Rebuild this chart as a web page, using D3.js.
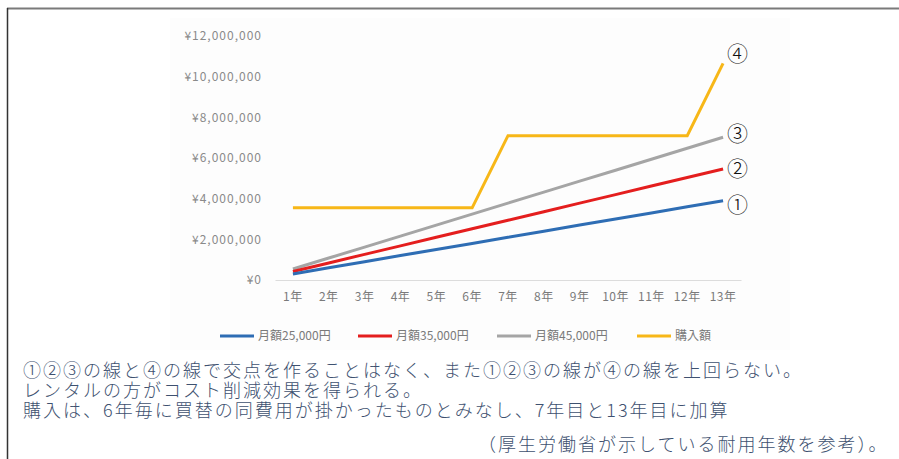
<!DOCTYPE html>
<html>
<head>
<meta charset="utf-8">
<script src="https://cdn.jsdelivr.net/npm/d3@7"></script>
<style>
  body { margin: 0; background: #fff; }
  svg text { font-family: "Noto Sans CJK JP", "Noto Sans", sans-serif; }
</style>
</head>
<body>
<div id="chart"></div>
<script>
// Data
const years = ["1年","2年","3年","4年","5年","6年","7年","8年","9年","10年","11年","12年","13年"];
const rent25 = [300000,600000,900000,1200000,1500000,1800000,2100000,2400000,2700000,3000000,3300000,3600000,3900000];
const rent35 = [420000,840000,1260000,1680000,2100000,2520000,2940000,3360000,3780000,4200000,4620000,5040000,5460000];
const rent45 = [540000,1080000,1620000,2160000,2700000,3240000,3780000,4320000,4860000,5400000,5940000,6480000,7020000];
const purchase = [3550000,3550000,3550000,3550000,3550000,3550000,7100000,7100000,7100000,7100000,7100000,7100000,10650000];
const yTicks = [0,2000000,4000000,6000000,8000000,10000000,12000000];
const seriesNames = ["月額25,000円","月額35,000円","月額45,000円","購入額"];
const seriesColors = ["#2e6db4","#e41e1e","#a5a5a5","#f7b718"];
const lineMarks = ["①","②","③","④"];
const notes = [
  "①②③の線と④の線で交点を作ることはなく、また①②③の線が④の線を上回らない。",
  "レンタルの方がコスト削減効果を得られる。",
  "購入は、6年毎に買替の同費用が掛かったものとみなし、7年目と13年目に加算",
  "（厚生労働省が示している耐用年数を参考）。"
];

const svgWidth = 899;
const svgHeight = 459;

const svg = d3.select("#chart")
  .append("svg")
  .attr("width", svgWidth)
  .attr("height", svgHeight);

// frame lines (top and left)
svg.append("line")
  .attr("x1", 7).attr("x2", svgWidth).attr("y1", 8.5).attr("y2", 8.5)
  .attr("stroke", "#7a7a7a").attr("stroke-width", 2);
svg.append("line")
  .attr("x1", 7.5).attr("x2", 7.5).attr("y1", 8).attr("y2", svgHeight)
  .attr("stroke", "#333").attr("stroke-width", 1.5);

// faint pasted-image backdrop
svg.append("rect")
  .attr("x", 170).attr("y", 18).attr("width", 620).attr("height", 332)
  .attr("fill", "#fdfdfd");

// Scales
const x = d3.scaleBand()
  .domain(years)
  .range([275, 741]);

const y = d3.scaleLinear()
  .domain([0, 12000000])
  .range([280, 36]);

const xc = d => x(d) + x.bandwidth() / 2;

// Axes
const yAxis = d3.axisLeft(y)
  .tickValues(yTicks)
  .tickSize(0)
  .tickPadding(0)
  .tickFormat(d => "¥" + d3.format(",")(d));

const yAxisG = svg.append("g")
  .attr("transform", "translate(262,0)")
  .call(yAxis);
yAxisG.select(".domain").remove();
yAxisG.selectAll("text")
  .attr("fill", "#8a8a8a")
  .style("font-size", "12px")
  .style("letter-spacing", "1px");

const xAxis = d3.axisBottom(x).tickSize(0).tickPadding(12);
const xAxisG = svg.append("g")
  .attr("transform", "translate(0,280)")
  .call(xAxis);
xAxisG.select(".domain")
  .attr("stroke", "#dcdcdc")
  .attr("stroke-width", 1.2);
xAxisG.selectAll("text")
  .attr("fill", "#7a7a7a")
  .style("font-size", "12px")
  .style("letter-spacing", "0.5px");

// Lines
const allSeries = [rent25, rent35, rent45, purchase];
const line = d3.line()
  .x((d, i) => xc(years[i]))
  .y(d => y(d));

// draw yellow first so rental lines sit on top near the origin
[3, 2, 1, 0].forEach(k => {
  svg.append("path")
    .datum(allSeries[k])
    .attr("d", line)
    .attr("fill", "none")
    .attr("stroke", seriesColors[k])
    .attr("stroke-width", 3)
    .attr("stroke-linejoin", "miter");
});

// Circled numbers at the end of each line
const markOffsets = [4, 0, -4, -10];
allSeries.forEach((s, k) => {
  svg.append("text")
    .attr("x", 727)
    .attr("y", y(s[s.length - 1]) + markOffsets[k])
    .attr("dy", "0.35em")
    .attr("fill", "#111")
    .style("font-size", "21px")
    .style("font-weight", 300)
    .text(lineMarks[k]);
});

// Legend
const legendX = [220, 358, 497, 637];
const legendG = svg.append("g").attr("transform", "translate(0,336)");
seriesNames.forEach((name, k) => {
  legendG.append("line")
    .attr("x1", legendX[k]).attr("x2", legendX[k] + 34)
    .attr("y1", 0).attr("y2", 0)
    .attr("stroke", seriesColors[k])
    .attr("stroke-width", 3);
  legendG.append("text")
    .attr("x", legendX[k] + 38)
    .attr("y", 0)
    .attr("dy", "0.35em")
    .attr("fill", "#7a7a7a")
    .style("font-size", "12px")
    .text(name);
});

// Notes below the chart
const noteX = [23, 23, 23, 478];
const noteY = [377, 397, 417, 451];
notes.forEach((t, i) => {
  svg.append("text")
    .attr("x", noteX[i])
    .attr("y", noteY[i])
    .attr("fill", "#3e5170")
    .style("font-size", "18px")
    .style("font-weight", 300)
    .style("letter-spacing", "2px")
    .text(t);
});
</script>
</body>
</html>
